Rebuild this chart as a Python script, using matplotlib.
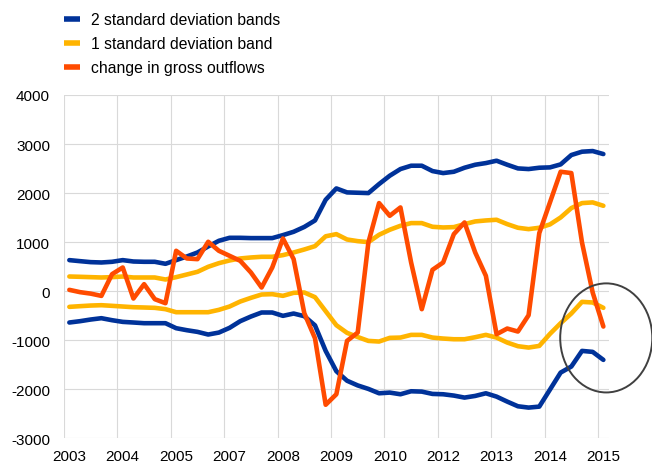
import numpy as np
import matplotlib.pyplot as plt
from matplotlib.lines import Line2D
from matplotlib.patches import Ellipse

plt.rcParams['font.family'] = ['Liberation Sans', 'DejaVu Sans']
plt.rcParams['axes.unicode_minus'] = False

# quarterly observations, 51 periods
upper_2sd = [633, 612, 592, 585, 599, 633, 605, 599, 599, 558,
             633, 707, 789, 912, 1027, 1088, 1088, 1082, 1082, 1082,
             1143, 1211, 1310, 1442, 1864, 2095, 2014, 2007, 2000, 2184,
             2354, 2490, 2558, 2558, 2449, 2408, 2435, 2517, 2578, 2612,
             2660, 2578, 2503, 2490, 2517, 2524, 2585, 2776, 2844, 2857,
             2796]
lower_2sd = [-639, -612, -578, -551, -592, -626, -639, -653, -653, -653,
             -755, -796, -830, -884, -844, -748, -612, -517, -435, -435,
             -503, -456, -510, -697, -1218, -1632, -1826, -1922, -1993, -2082,
             -2068, -2102, -2041, -2048, -2095, -2102, -2129, -2170, -2136, -2082,
             -2150, -2252, -2347, -2374, -2354, -2007, -1660, -1537, -1218, -1238,
             -1401]
upper_1sd = [299, 293, 286, 279, 286, 299, 279, 279, 279, 238,
             286, 340, 395, 497, 571, 626, 667, 687, 701, 701,
             735, 789, 850, 918, 1119, 1163, 1054, 1020, 1000, 1150,
             1252, 1333, 1388, 1388, 1313, 1299, 1306, 1367, 1422, 1442,
             1456, 1367, 1293, 1265, 1293, 1361, 1503, 1694, 1796, 1810,
             1741]
lower_1sd = [-320, -306, -293, -286, -299, -313, -327, -333, -340, -367,
             -429, -429, -429, -429, -381, -313, -211, -136, -68, -61,
             -95, -34, -27, -122, -408, -694, -850, -935, -1014, -1027,
             -952, -946, -891, -891, -946, -966, -980, -980, -939, -891,
             -946, -1048, -1122, -1150, -1116, -871, -653, -456, -218, -231,
             -340]
gross_outflows = [27, -20, -50, -96, 347, 483, -150, 143, -163, -245,
                  823, 667, 653, 1007, 823, 721, 619, 381, 75, 483,
                  1075, 653, -450, -960, -2316, -2102, -1014, -844, 993, 1796,
                  1537, 1707, 585, -367, 435, 585, 1163, 1401, 789, 313,
                  -878, -762, -823, -490, 1184, 1810, 2435, 2408, 993, -27,
                  -721]

year_labels = ['2003', '2004', '2005', '2007', '2008', '2009',
               '2010', '2012', '2013', '2014', '2015']

BLUE = '#003299'
YELLOW = '#FFB400'
ORANGE = '#FF4B00'

fig = plt.figure(figsize=(6.52, 4.64), dpi=100)
ax = fig.add_axes([64 / 652, 1 - 439.3 / 464, (608.7 - 64) / 652, (439.3 - 96) / 464])

x = np.arange(len(gross_outflows))
lw = 3.3
ax.plot(x, upper_2sd, color=BLUE, lw=lw, solid_capstyle='round', zorder=3)
ax.plot(x, lower_2sd, color=BLUE, lw=lw, solid_capstyle='round', zorder=3)
ax.plot(x, upper_1sd, color=YELLOW, lw=lw, solid_capstyle='round', zorder=3)
ax.plot(x, lower_1sd, color=YELLOW, lw=lw, solid_capstyle='round', zorder=3)
ax.plot(x, gross_outflows, color=ORANGE, lw=lw, solid_capstyle='round', zorder=4)

# highlight on the latest observations
ring = Ellipse((50.27, -953), 8.62, 2224, fill=False, edgecolor='#404040',
               lw=1.4, clip_on=False, zorder=5)
ax.add_patch(ring)

ax.set_xlim(-0.5, len(gross_outflows) - 0.5)
ax.set_ylim(-3000, 4000)
ax.set_yticks(np.arange(-3000, 4001, 1000))
ax.set_xticks(np.arange(0, 51, 5))
ax.set_xticklabels(year_labels)
ax.set_xticks(np.arange(-0.5, 50, 5), minor=True)

ax.grid(axis='y', which='major', color='#d9d9d9', lw=0.8)
ax.grid(axis='x', which='minor', color='#d9d9d9', lw=0.8)
ax.set_axisbelow(True)
for s in ax.spines.values():
    s.set_visible(False)
ax.tick_params(axis='both', which='both', length=0, labelsize=11, colors='#000000')
ax.tick_params(axis='y', pad=10)
ax.tick_params(axis='x', pad=7.5)

handles = [Line2D([], [], color=c, lw=4, solid_capstyle='butt') for c in (BLUE, YELLOW, ORANGE)]
labels = ['2 standard deviation bands', '1 standard deviation band', 'change in gross outflows']
fig.legend(handles, labels, loc='upper left', bbox_to_anchor=(64 / 652, 1 - 13 / 464),
           frameon=False, fontsize=11.3, handlelength=1.05, handletextpad=0.65,
           labelspacing=0.58, borderpad=0, borderaxespad=0)

fig.savefig('out.png', dpi=100)
